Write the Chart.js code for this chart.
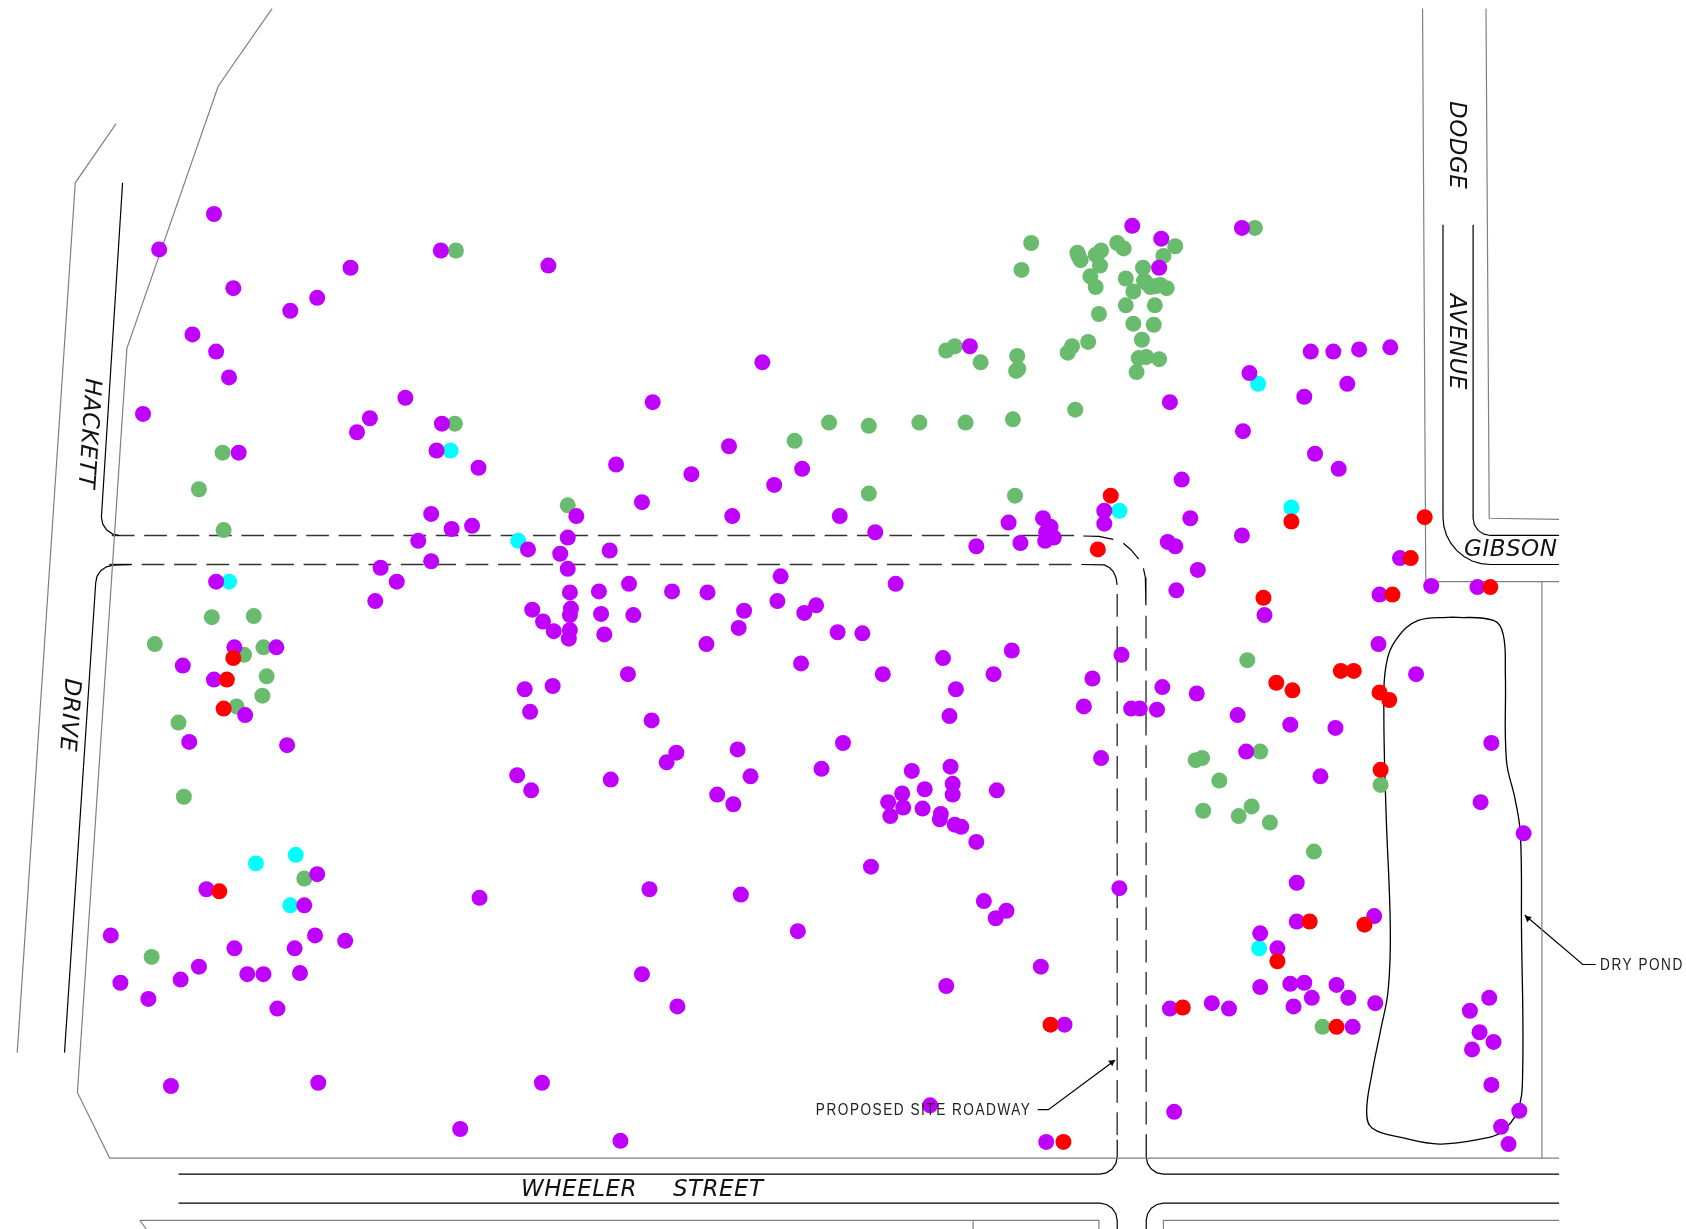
<!DOCTYPE html>
<html>
<head>
<meta charset="utf-8">
<title>Site plan</title>
<script src="https://cdn.jsdelivr.net/npm/chart.js@4"></script>
<style>
  html, body { margin: 0; padding: 0; background: #fff; }
  canvas { display: block; }
</style>
</head>
<body>
<canvas id="siteChart" width="1686" height="1229"></canvas>
<script>
const purplePoints = [
  [199,199],[148,232],[217,268],[270,289],[295,277],[326,249],[410,233],[510,247],[179,311],[201,327],
  [213,351],[133,385],[377,370],[344,389],[332,402],[411,394],[406,419],[445,435],[222,421],[709,337],
  [607,374],[678,415],[573,432],[643,441],[720,451],[746,436],[597,467],[681,480],[781,480],[814,495],
  [536,480],[401,478],[420,492],[439,489],[389,503],[528,500],[491,511],[521,515],[567,512],[401,522],
  [354,528],[369,541],[349,559],[528,529],[201,541],[585,543],[530,551],[557,550],[625,550],[658,551],
  [726,536],[833,543],[723,559],[759,563],[748,570],[692,568],[687,584],[531,566],[495,567],[530,572],
  [559,571],[589,572],[505,578],[515,587],[530,586],[529,594],[562,590],[657,599],[779,588],[802,589],
  [218,602],[257,602],[170,619],[199,632],[228,665],[176,690],[267,693],[584,627],[488,641],[514,638],
  [493,662],[745,617],[821,627],[877,612],[941,605],[924,627],[889,641],[883,666],[606,670],[629,700],
  [620,709],[686,697],[698,722],[784,691],[764,715],[481,721],[494,735],[568,725],[667,739],[682,748],
  [848,717],[884,713],[886,729],[886,739],[839,738],[860,734],[826,746],[840,751],[828,759],[858,752],
  [875,757],[874,762],[888,767],[894,769],[908,783],[927,735],[810,806],[295,813],[192,827],[283,842],
  [604,827],[689,832],[446,835],[742,866],[915,838],[936,847],[926,854],[1041,826],[103,870],[293,870],
  [321,875],[274,882],[218,882],[185,899],[168,911],[112,914],[138,929],[230,906],[245,906],[279,905],
  [258,938],[597,906],[630,936],[880,917],[968,899],[159,1010],[296,1007],[504,1007],[428,1050],[577,1061],
  [865,1028],[973,1062],[990,953],[1053,210],[1080,222],[1078,249],[1155,212],[902,322],[1088,374],[1162,347],
  [1219,327],[1240,327],[1264,325],[1293,323],[1253,357],[1213,369],[1156,401],[1223,422],[1245,436],[1099,446],
  [1027,475],[1027,487],[1107,482],[1155,498],[1086,504],[1093,508],[1114,530],[1094,549],[970,482],[977,490],
  [973,495],[980,500],[972,503],[938,486],[949,505],[908,508],[1302,519],[1331,545],[1374,546],[1283,553],
  [1176,572],[1282,599],[1317,627],[1043,609],[1016,631],[1008,657],[1052,659],[1060,659],[1076,660],[1081,639],
  [1113,645],[1151,665],[1200,674],[1242,677],[1024,705],[1159,699],[1387,691],[1228,722],[1377,746],[1417,775],
  [1206,821],[1206,857],[1278,852],[1172,868],[1188,882],[1172,918],[1200,915],[1213,914],[1243,916],[1254,928],
  [1220,928],[1203,936],[1279,933],[1088,938],[1127,933],[1143,938],[1258,955],[1367,940],[1385,928],[1376,960],
  [1389,969],[1369,976],[1387,1009],[1413,1033],[1396,1048],[1403,1064],[1092,1034]
];
const greenPoints = [
  [424,233],[423,394],[207,421],[185,455],[208,493],[528,470],[197,574],[236,573],[144,599],[245,602],
  [227,609],[248,629],[244,647],[220,657],[166,672],[171,741],[283,817],[141,890],[739,410],[771,393],
  [808,396],[855,393],[898,393],[942,390],[1000,381],[808,459],[944,461],[880,326],[888,322],[912,337],
  [946,331],[947,343],[945,345],[993,328],[997,322],[1012,318],[950,251],[959,226],[1002,235],[1003,238],
  [1005,242],[1019,237],[1024,233],[1023,247],[1039,226],[1045,231],[1014,257],[1019,267],[1047,259],[1063,249],
  [1064,261],[1066,263],[1070,267],[1075,266],[1079,265],[1085,268],[1054,271],[1047,284],[1074,284],[1022,292],
  [1054,301],[1073,302],[1062,316],[1059,333],[1066,332],[1078,334],[1057,346],[1082,238],[1093,229],[1167,212],
  [1172,699],[1118,705],[1112,707],[1134,726],[1164,750],[1152,759],[1119,754],[1181,765],[1222,792],[1160,614],
  [1284,730],[1230,955]
];
const redPoints = [
  [1033,461],[1021,511],[1201,485],[1325,481],[1312,519],[1295,553],[1386,546],[1175,556],[217,612],[211,632],
  [208,659],[1247,624],[1259,624],[1187,635],[1202,642],[1283,644],[1292,651],[1284,716],[204,829],[1218,857],
  [1269,860],[1188,894],[977,953],[1100,937],[1243,955],[989,1062]
];
const cyanPoints = [
  [419,419],[482,503],[213,541],[1170,357],[1041,475],[1201,472],[238,803],[275,795],[270,842],[1171,882]
];

const greyLines = [
  [[108,115],[70,170],[16,979]],
  [[253,8],[203,80],[118,324],[72,1016],[102,1077],[1450,1077]],
  [[1323,8],[1326,541],[1450,541]],
  [[1382,8],[1385,482],[1450,483]],
  [[1434,541],[1434,1077]],
  [[130,1135],[1022,1135],[1022,1143]],
  [[130,1135],[136,1143]],
  [[905,1135],[905,1143]],
  [[1082,1143],[1082,1135],[1450,1135]]
];
const blackLines = [
  [[114,170],[94.3,481],[95.6,487.5],[99.3,493],[104.8,496.7],[111,498]],
  [[60,979],[89,542],[90.2,536],[93.7,530.7],[99,527.2],[105,525.6],[122,525]],
  [[1066,1055],[1066,1076],[1067.2,1082],[1070.7,1087.3],[1076,1090.8],[1082,1092],[1450,1092]],
  [[1039,1060],[1039,1076],[1037.8,1082],[1034.3,1087.3],[1029,1090.8],[1023,1092],[166,1092]],
  [[166,1119],[1023,1119],[1029,1120.2],[1034.3,1123.7],[1037.8,1129],[1039,1135],[1039,1143]],
  [[1066,1143],[1066,1135],[1067.2,1129],[1070.7,1123.7],[1076,1120.2],[1082,1119],[1450,1119]],
  [[1342,209],[1342,481],[1342.8,489.6],[1345.3,497.8],[1349.4,505.4],[1354.9,512.1],[1361.6,517.6],[1369.2,521.7],[1377.4,524.2],[1386,525],[1450,525]],
  [[1370,209],[1370,482],[1371.2,488.1],[1374.7,493.3],[1380,496.8],[1386,498],[1450,498]],
  [[965,1032],[975,1032],[1037,986]],
  [[1484,897],[1472,897],[1418,851]],
  // the rounded corners of the proposed roadway
  [[1006,525],[1027,525.4],[1032,528],[1035.4,531.6],[1037.8,537],[1039,544]],
  [[1007.5,498.5],[1022,498.8],[1035.4,501.6]],
  [[1044.7,505.3],[1052,511.5],[1059,519.9]],
  [[1063.4,528.6],[1065.2,537],[1065.7,545.6],[1065.7,563]]
];
const dashedLines = [
  [[104,498],[1007,498]],
  [[101.6,525],[1006,525]],
  [[1039,552.4],[1039,1060]],
  [[1065.8,572.6],[1066,1055]]
];
const pondOutline = [
  [1351,574],[1389,577],[1398,590],[1400,627],[1401,707],[1409,743],[1414,776],[1415,863],[1416,1002],
  [1411,1034],[1396,1053],[1379,1059],[1339,1064],[1304,1058],[1276,1049],[1271,1034],[1276,998],[1284,958],
  [1291,921],[1293,863],[1289,754],[1287,663],[1289,619],[1299,594],[1319,577],[1351,574]
];
const arrowHeads = [[1034,988],[1421,854]];
const arrowAngles = [53,310];

const labelTexts = ['DODGE','AVENUE','HACKETT','DRIVE','GIBSON','WHEELER','STREET','PROPOSED SITE ROADWAY','DRY POND'];
const labelX = [1354,1354.5,82,64,1405,538.5,668,859,1527];
const labelY = [135,318,403,665,512,1107,1107,1033,898];
const labelAngles = [90,90,94,94,0,0,0,0,0];

const toXY = p => ({ x: p[0], y: p[1] });

function dotSet(points, color, order) {
  return {
    data: points.map(toXY),
    showLine: false,
    backgroundColor: color,
    borderWidth: 0,
    pointRadius: 8,
    order: order
  };
}

function lineSet(points, color, width, extra) {
  return Object.assign({
    data: points.map(toXY),
    showLine: true,
    borderColor: color,
    borderWidth: width,
    pointRadius: 0,
    fill: false,
    order: 10
  }, extra);
}

const streetLabels = {
  id: 'streetLabels',
  afterDatasetsDraw(chart) {
    const ctx = chart.ctx;
    labelTexts.forEach((text, i) => {
      const small = i >= 7;
      ctx.save();
      ctx.translate(chart.scales.x.getPixelForValue(labelX[i]), chart.scales.y.getPixelForValue(labelY[i]));
      ctx.rotate(labelAngles[i] * Math.PI / 180);
      if (small) ctx.scale(0.8, 1); // the CAD lettering is narrow
      ctx.font = small ? '17px "Liberation Sans", sans-serif' : 'italic 23px "DejaVu Sans", sans-serif';
      ctx.letterSpacing = small ? '1.9px' : '0.5px';
      ctx.textAlign = 'center';
      ctx.textBaseline = 'middle';
      ctx.fillStyle = small ? '#222' : '#111';
      ctx.fillText(text, 0, 0);
      ctx.restore();
    });
  }
};

const datasets = [
  dotSet(redPoints, '#ff0000', 1),
  dotSet(purplePoints, '#bf00ff', 2),
  dotSet(cyanPoints, '#00ffff', 3),
  dotSet(greenPoints, '#69bb6e', 4),
  lineSet(pondOutline, '#000', 1.3, { tension: 0.4 }),
  {
    data: arrowHeads.map(toXY),
    showLine: false,
    pointStyle: 'triangle',
    pointRadius: 4,
    rotation: arrowAngles,
    backgroundColor: '#000',
    borderWidth: 0,
    order: 9
  }
];
greyLines.forEach(l => datasets.push(lineSet(l, '#808080', 1.2)));
blackLines.forEach(l => datasets.push(lineSet(l, '#000', 1.2)));
dashedLines.forEach(l => datasets.push(lineSet(l, '#333', 1.4, { borderDash: [22.7, 9.7] })));

new Chart(document.getElementById('siteChart').getContext('2d'), {
  type: 'scatter',
  data: { datasets: datasets },
  plugins: [streetLabels],
  options: {
    responsive: false,
    animation: false,
    layout: { padding: 0, autoPadding: false },
    plugins: { legend: { display: false }, tooltip: { enabled: false } },
    scales: {
      x: { type: 'linear', display: false, min: 0, max: 1568 },
      y: { type: 'linear', display: false, min: 0, max: 1143, reverse: true }
    }
  }
});
</script>
</body>
</html>
